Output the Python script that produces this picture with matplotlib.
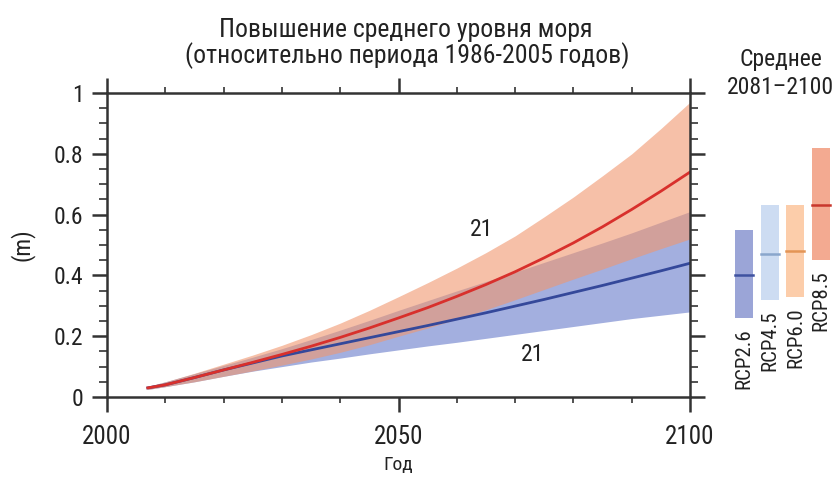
import numpy as np
import matplotlib
matplotlib.use('Agg')
import matplotlib.pyplot as plt
from matplotlib.ticker import MultipleLocator

plt.rcParams['font.family'] = ['Roboto Condensed', 'Liberation Sans', 'DejaVu Sans']

# time series (m, relative to 1986-2005)
years = [2007, 2010, 2015, 2020, 2025, 2030, 2035, 2040, 2045, 2050,
         2055, 2060, 2065, 2070, 2075, 2080, 2085, 2090, 2095, 2100]
rcp85_mean = [0.03, 0.04, 0.064, 0.089, 0.114, 0.14, 0.167, 0.196, 0.227, 0.26,
              0.294, 0.331, 0.37, 0.412, 0.458, 0.507, 0.56, 0.617, 0.677, 0.74]
rcp85_high = [0.035, 0.05, 0.078, 0.108, 0.138, 0.17, 0.205, 0.243, 0.285, 0.33,
              0.376, 0.424, 0.475, 0.53, 0.593, 0.658, 0.728, 0.80, 0.883, 0.97]
rcp85_low = [0.025, 0.034, 0.05, 0.068, 0.086, 0.105, 0.125, 0.147, 0.172, 0.20,
             0.227, 0.256, 0.287, 0.32, 0.354, 0.388, 0.421, 0.455, 0.488, 0.52]
rcp26_mean = [0.03, 0.04, 0.064, 0.089, 0.112, 0.135, 0.155, 0.175, 0.195, 0.215,
              0.235, 0.256, 0.277, 0.299, 0.321, 0.344, 0.367, 0.391, 0.415, 0.44]
rcp26_high = [0.035, 0.05, 0.077, 0.104, 0.131, 0.159, 0.189, 0.22, 0.252, 0.285,
              0.317, 0.349, 0.38, 0.411, 0.443, 0.475, 0.507, 0.54, 0.575, 0.61]
rcp26_low = [0.025, 0.034, 0.05, 0.068, 0.085, 0.10, 0.115, 0.128, 0.142, 0.155,
             0.168, 0.18, 0.193, 0.206, 0.219, 0.232, 0.245, 0.258, 0.269, 0.28]

# 2081-2100 averages
scenarios = ['RCP2.6', 'RCP4.5', 'RCP6.0', 'RCP8.5']
avg_low = [0.26, 0.32, 0.33, 0.45]
avg_high = [0.55, 0.63, 0.63, 0.82]
avg_mean = [0.40, 0.47, 0.48, 0.63]
bar_colors = ['#9ba5d7', '#cddcf2', '#fccdaa', '#f3aa91']
mean_colors = ['#3f52a0', '#8aa6cc', '#e39556', '#c8372c']

spine_col = '#333333'
text_col = '#222222'

fig = plt.figure(figsize=(8.36, 4.79), dpi=100)
ax = fig.add_axes([0.128, 0.1712, 0.6974, 0.6346])

ax.fill_between(years, rcp26_low, rcp26_high, color='#8c9bd7', alpha=0.8, lw=0)
ax.fill_between(years, rcp85_low, rcp85_high, color='#f0966e', alpha=0.6, lw=0)
ax.plot(years, rcp26_mean, color='#34489a', lw=2)
ax.plot(years, rcp85_mean, color='#d8302c', lw=2)

ax.text(2064.3, 0.55, '21', fontsize=17, ha='center', va='center', color=text_col,
        bbox=dict(facecolor='white', edgecolor='none', pad=1))
ax.text(2073, 0.14, '21', fontsize=17, ha='center', va='center', color=text_col)

ax.set_xlim(2000, 2100)
ax.set_ylim(0, 1)
ax.set_xticks([2000, 2050, 2100])
ax.xaxis.set_minor_locator(MultipleLocator(10))
ax.set_yticks([0, 0.2, 0.4, 0.6, 0.8, 1.0])
ax.set_yticklabels(['0', '0.2', '0.4', '0.6', '0.8', '1'])
ax.yaxis.set_minor_locator(MultipleLocator(0.05))
ax.tick_params(axis='x', which='major', direction='out', length=11, width=1.8,
               top=True, bottom=True, labelsize=18, pad=9, color=spine_col,
               labelcolor=text_col)
ax.tick_params(axis='x', which='minor', direction='out', length=4.5, width=1.2,
               top=True, bottom=True, color=spine_col)
ax.tick_params(axis='y', which='major', direction='out', length=11, width=1.8,
               left=True, right=True, labelsize=17, pad=6, color=spine_col,
               labelcolor=text_col)
ax.tick_params(axis='y', which='minor', direction='out', length=6, width=1.2,
               left=True, right=True, color=spine_col)
for s in ax.spines.values():
    s.set_color(spine_col)
    s.set_linewidth(1.8)

ax.set_xlabel('Год', fontsize=14, labelpad=5, color=text_col)
ax.set_ylabel('(m)', fontsize=17, color=text_col)
ax.yaxis.set_label_coords(-0.124, 0.5)

fig.text(0.4856, 0.9228, 'Повышение среднего уровня моря', ha='center',
         va='baseline', fontsize=18.5, color=text_col)
fig.text(0.4868, 0.8685, '(относительно периода 1986-2005 годов)', ha='center',
         va='baseline', fontsize=18.5, color=text_col)

# right panel: 2081-2100 averages
ax2 = fig.add_axes([0.8715, 0.1712, 0.1273, 0.6346])
x = np.arange(len(scenarios))
ax2.bar(x, np.array(avg_high) - np.array(avg_low), bottom=avg_low, width=0.7,
        color=bar_colors)
for i in range(len(scenarios)):
    ax2.plot([x[i] - 0.35, x[i] + 0.35], [avg_mean[i], avg_mean[i]],
             color=mean_colors[i], lw=1.8)
    ax2.text(x[i], avg_low[i] - 0.035, scenarios[i], rotation=90, ha='center',
             va='top', fontsize=15, color=text_col)
ax2.set_xlim(-0.6, 3.54)
ax2.set_ylim(0, 1)
ax2.axis('off')

fig.text(0.934, 0.876, 'Среднее', ha='center', va='center', fontsize=17, color=text_col)
fig.text(0.934, 0.817, '2081–2100', ha='center', va='center', fontsize=17, color=text_col)

fig.savefig('out.png', dpi=100)
